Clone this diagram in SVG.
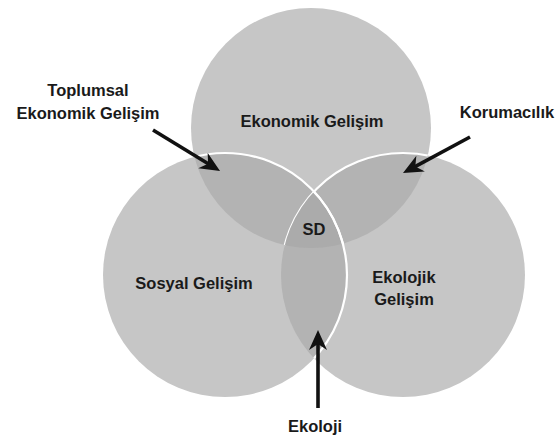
<svg xmlns="http://www.w3.org/2000/svg" width="559" height="438" viewBox="0 0 559 438">
  <style>
    .lbl { font-family: "Liberation Sans", Arial, sans-serif; font-weight: bold; font-size: 16.5px; fill: #1a1a1a; text-anchor: middle; }
    .single { fill: #c6c6c6; }
    .pair { fill: #b3b3b3; }
    .triple { fill: #ababab; }
    .edge { fill: none; stroke: #ffffff; stroke-width: 2.2; }
    .arrow { stroke: #111111; stroke-width: 3.6; fill: none; marker-end: url(#head); }
  </style>
  <defs>
    <circle id="cT" cx="311" cy="128" r="120"/>
    <circle id="cL" cx="225" cy="275" r="122"/>
    <circle id="cR" cx="403" cy="275" r="122"/>
    <clipPath id="clipT"><use href="#cT"/></clipPath>
    <clipPath id="clipL"><use href="#cL"/></clipPath>
    <clipPath id="clipR"><use href="#cR"/></clipPath>
    <marker id="head" markerUnits="userSpaceOnUse" markerWidth="22" markerHeight="20" refX="10" refY="9" orient="auto">
      <path d="M0,0 L20,9 L0,18 L6,9 Z" fill="#111111"/>
    </marker>
  </defs>

  <!-- three circles -->
  <g id="economic">
    <use href="#cT" class="single"/>
  </g>
  <g id="social">
    <use href="#cL" class="single"/>
  </g>
  <g id="ecological">
    <use href="#cR" class="single"/>
  </g>

  <!-- overlap regions -->
  <g id="overlaps">
    <use href="#cL" class="pair" clip-path="url(#clipT)"/>
    <use href="#cR" class="pair" clip-path="url(#clipT)"/>
    <use href="#cR" class="pair" clip-path="url(#clipL)"/>
    <use href="#cR" class="edge" clip-path="url(#clipT)"/>
    <g clip-path="url(#clipT)">
      <use href="#cL" class="triple" clip-path="url(#clipR)"/>
    </g>
    <use href="#cL" class="edge" clip-path="url(#clipT)"/>
    <use href="#cL" class="edge" clip-path="url(#clipR)"/>
  </g>

  <!-- labels inside circles -->
  <g id="labels">
    <text class="lbl" x="312" y="127">Ekonomik Gelişim</text>
    <text class="lbl" x="194" y="289">Sosyal Gelişim</text>
    <text class="lbl" x="404" y="283">Ekolojik</text>
    <text class="lbl" x="404" y="305">Gelişim</text>
    <text class="lbl" x="314" y="235">SD</text>
  </g>

  <!-- outer labels -->
  <g id="toplumsal">
    <text class="lbl" x="88" y="96">Toplumsal</text>
    <text class="lbl" x="88" y="119">Ekonomik Gelişim</text>
  </g>
  <g id="korumacilik">
    <text class="lbl" x="507" y="118">Korumacılık</text>
  </g>
  <g id="ekoloji">
    <text class="lbl" x="315" y="432">Ekoloji</text>
  </g>

  <!-- pointers -->
  <g id="connectors">
    <line class="arrow" x1="153" y1="130" x2="211.5" y2="165.8"/>
    <line class="arrow" x1="470" y1="137" x2="411.8" y2="168.3"/>
    <line class="arrow" x1="318" y1="408" x2="318" y2="340"/>
  </g>
</svg>
